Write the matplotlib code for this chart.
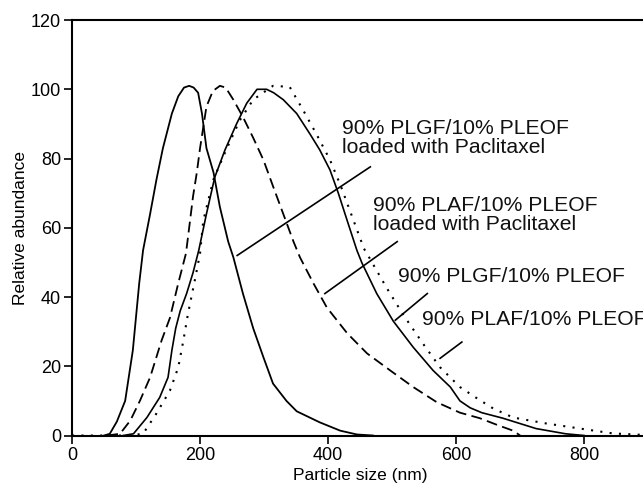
import matplotlib
matplotlib.use("Agg")
import matplotlib.pyplot as plt

# particle size distributions (nm, relative abundance)
plgf_pac_x = [50, 59, 70, 83, 95, 105, 111, 122, 132, 142, 156, 166, 175, 183, 190, 197, 203, 210,
              221, 231, 244, 252, 267, 283, 299, 314, 335, 351, 387, 419, 445, 470]
plgf_pac_y = [0, 0.5, 4, 10, 24.6, 44, 53.5, 64, 74, 83, 93, 98, 100.5, 101, 100.5, 99, 93, 83,
              76, 66, 56, 51.5, 41, 31, 22.6, 15, 10, 7, 3.8, 1.4, 0.3, 0]

plaf_pac_x = [55, 75, 91, 106, 122, 140, 153, 166, 178, 183, 189, 195, 200, 210, 220, 231, 240, 252,
              267, 283, 299, 314, 330, 346, 356, 377, 398, 430, 461, 497, 533, 570, 606, 637, 665,
              689, 700]
plaf_pac_y = [0, 0.5, 4.3, 10, 16.8, 27.5, 34, 44, 52.6, 60, 69, 76, 83, 95, 99.5, 101, 100.5, 97,
              92, 86, 79.6, 72, 64, 56, 51.5, 44, 37, 29.5, 23.7, 18.8, 14, 9.6, 6.6, 5, 3,
              1.4, 0]

plgf_x = [80, 96, 117, 137, 150, 156, 162, 169, 179, 189, 198, 210, 223, 239, 257, 273, 289, 304,
          315, 330, 351, 372, 387, 403, 416, 430, 445, 453, 476, 502, 533, 564, 591, 606, 622,
          640, 673, 725, 771, 800]
plgf_y = [0, 0.5, 5.2, 11, 16.8, 24.6, 31, 36, 41, 47, 53.5, 64, 74.6, 82.5, 90, 96, 100, 100,
          99, 97, 93, 87, 82.5, 76.7, 70, 62, 53.5, 49.8, 41, 33, 25.5, 18.8, 14, 10, 8,
          6.6, 5, 2, 0.5, 0]

plaf_x = [0, 60, 90, 111, 132, 153, 166, 174, 181, 192, 200, 205, 221, 242, 262, 283, 314, 340,
          361, 382, 403, 420, 438, 456, 464, 491, 517, 548, 575, 606, 633, 658, 689, 740, 794,
          845, 890]
plaf_y = [0, 0, 0, 0.5, 6.4, 13, 19.7, 27.5, 35, 45, 52.6, 62, 74, 83, 91, 97, 101, 100.7,
          94, 87, 79.6, 72, 63, 54, 51.5, 42.8, 35, 26.6, 19.7, 14, 10.7, 7.8, 5.2, 3.5, 2,
          0.6, 0.2]

labels = ["90% PLGF/10% PLEOF\nloaded with Paclitaxel",
          "90% PLAF/10% PLEOF\nloaded with Paclitaxel",
          "90% PLGF/10% PLEOF",
          "90% PLAF/10% PLEOF"]
label_xy = [(422, 85.8), (470, 63.8), (509, 45.9), (547, 33.4)]
leader_from = [(258, 52), (395, 41), (505, 33.3), (575, 22.3)]
leader_to = [(466, 77.6), (508, 56), (555, 41), (609, 27)]

x_ticks = [0, 200, 400, 600, 800]
y_ticks = [0, 20, 40, 60, 80, 100, 120]

axis_font = ['Liberation Sans Narrow', 'Liberation Sans', 'DejaVu Sans']
note_font = ['Liberation Sans', 'DejaVu Sans']

fig = plt.figure(figsize=(6.43, 4.94), dpi=100)
ax = fig.add_axes([0.112, 0.1184, 0.896, 0.841])

ax.plot(plgf_pac_x, plgf_pac_y, color='black', lw=1.3, clip_on=False)
ax.plot(plaf_pac_x, plaf_pac_y, color='black', lw=1.3, linestyle=(0, (6, 3)), clip_on=False)
ax.plot(plgf_x, plgf_y, color='black', lw=1.2, clip_on=False)
ax.plot(plaf_x, plaf_y, color='black', lw=1.5, linestyle=(0, (1, 3.5)), clip_on=False)

for (x0, y0), (x1, y1) in zip(leader_from, leader_to):
    ax.plot([x0, x1], [y0, y1], color='black', lw=1.2)

for txt, (tx, ty) in zip(labels, label_xy):
    ax.text(tx, ty, txt, fontsize=15.2, family=note_font, ha='left', va='center',
            linespacing=1.0, color='#111111')

ax.set_xlim(0, 900)
ax.set_ylim(0, 120)
ax.set_xticks(x_ticks)
ax.set_yticks(y_ticks)
ax.set_xticklabels([str(v) for v in x_ticks], family=axis_font, fontsize=13)
ax.set_yticklabels([str(v) for v in y_ticks], family=axis_font, fontsize=13)
ax.tick_params(direction='out', length=6, width=1.2, pad=2)

ax.set_xlabel("Particle size (nm)", family=axis_font, fontsize=12.5, labelpad=3)
ax.set_ylabel("Relative abundance", family=axis_font, fontsize=12.5, labelpad=2)

for side in ['left', 'bottom', 'top', 'right']:
    ax.spines[side].set_linewidth(1.5)

fig.savefig("out.png", dpi=100)
